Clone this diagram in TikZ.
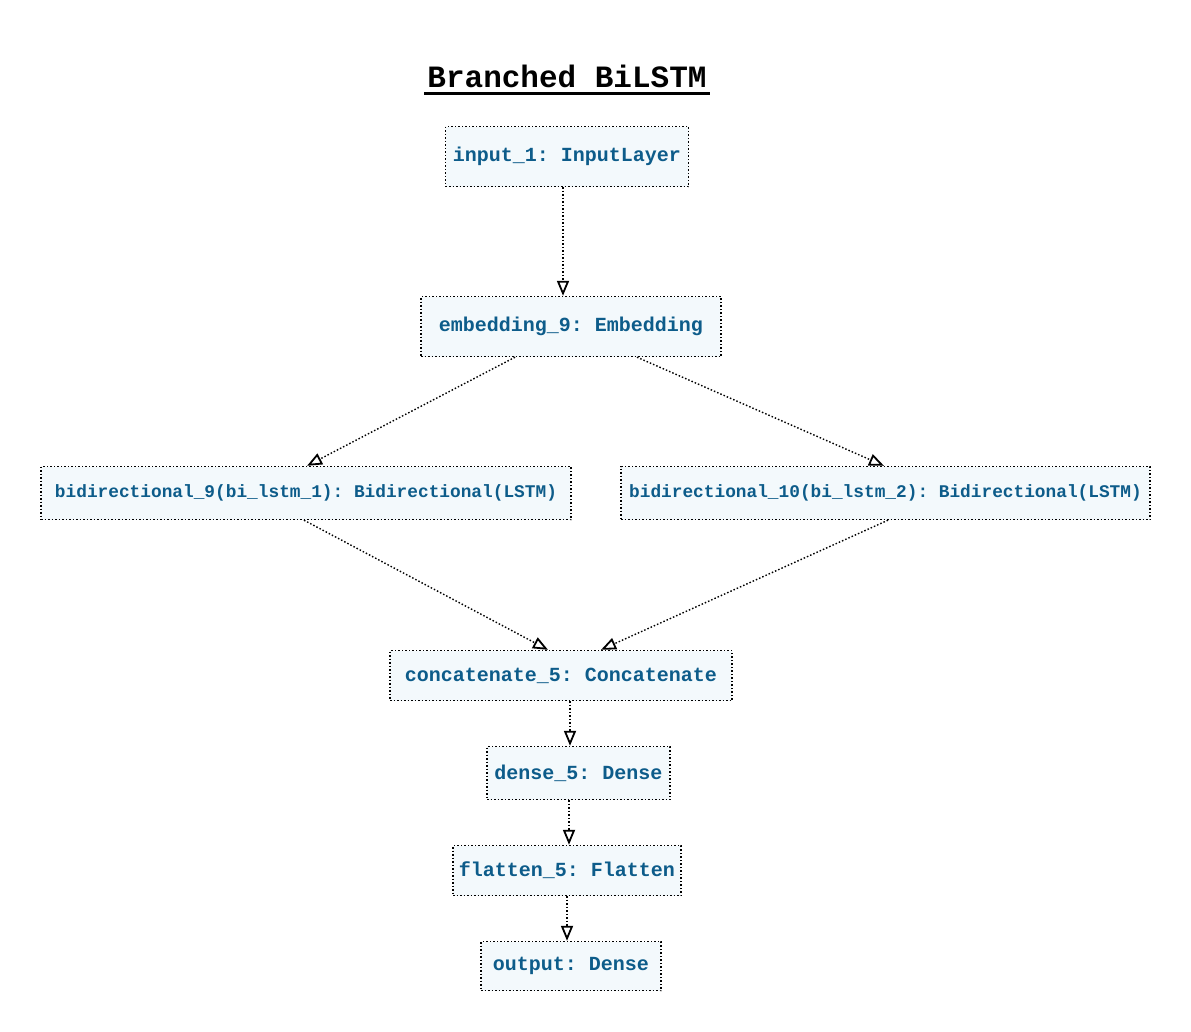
\documentclass[tikz,border=0pt]{standalone}
\usepackage{fontspec}
\setmonofont{Liberation Mono}
\usepackage{tikz}
\usetikzlibrary{arrows.meta, positioning}
\usepackage{xcolor}
\definecolor{layertext}{HTML}{0D5C8A}
\definecolor{layerfill}{HTML}{F3F9FC}
\tikzset{
  layer/.style={rectangle, draw=black, dash pattern=on 1.5pt off 2pt,
                line width=1.4pt, fill=layerfill, text=layertext, inner sep=0pt,
                font=\ttfamily\bfseries\fontsize{20}{24}\selectfont},
  layerS/.style={layer, font=\ttfamily\bfseries\fontsize{17.8}{22}\selectfont},
  flow/.style={-{Triangle[open, line width=1.8pt, length=15pt, width=12pt]},
               dash pattern=on 1.5pt off 2pt, line width=1.4pt, draw=black},
}
\begin{document}
\begin{tikzpicture}[x=1pt, y=-1pt]
  \useasboundingbox (0,0) rectangle (1191,1031);

  %% Title
  \node[inner sep=0pt, font=\ttfamily\bfseries\fontsize{31}{36}\selectfont]
    (title) at (567,76) {Branched BiLSTM};
  \draw[line width=3pt] ([shift={(-3pt,-6pt)}]title.base west)
    -- ([shift={(3pt,-6pt)}]title.base east);

  %% Layers
  \node[layer, minimum width=243pt, minimum height=60pt] (input) at (567,156.5)
    {input\_1: InputLayer};
  \node[layer, minimum width=300pt, minimum height=60pt] (emb) at (571,326.5)
    {embedding\_9: Embedding};
  \node[layerS, minimum width=530pt, minimum height=53pt] (bi9) at (306,493)
    {bidirectional\_9(bi\_lstm\_1): Bidirectional(LSTM)};
  \node[layerS, minimum width=529pt, minimum height=53pt] (bi10) at (885.5,493)
    {bidirectional\_10(bi\_lstm\_2): Bidirectional(LSTM)};
  \node[layer, minimum width=342pt, minimum height=50pt] (concat) at (561,675.5)
    {concatenate\_5: Concatenate};
  \node[layer, minimum width=183pt, minimum height=53pt] (dense) at (578.5,773)
    {dense\_5: Dense};
  \node[layer, minimum width=228pt, minimum height=50pt] (flat) at (567,870.5)
    {flatten\_5: Flatten};
  \node[layer, minimum width=180pt, minimum height=49pt] (out) at (571,966)
    {output: Dense};

  %% Connections
  \foreach \a/\da/\b/\db in {input/-4/emb/-8, emb/-56/bi9/1, emb/66/bi10/-1.5,
                             bi9/-2/concat/-13, bi10/2.5/concat/40,
                             concat/9/dense/-8.5, dense/-9.5/flat/2, flat/0/out/-4}{
    \draw[flow] ([xshift=\da pt]\a.south) -- ([xshift=\db pt]\b.north);
  }
\end{tikzpicture}
\end{document}
